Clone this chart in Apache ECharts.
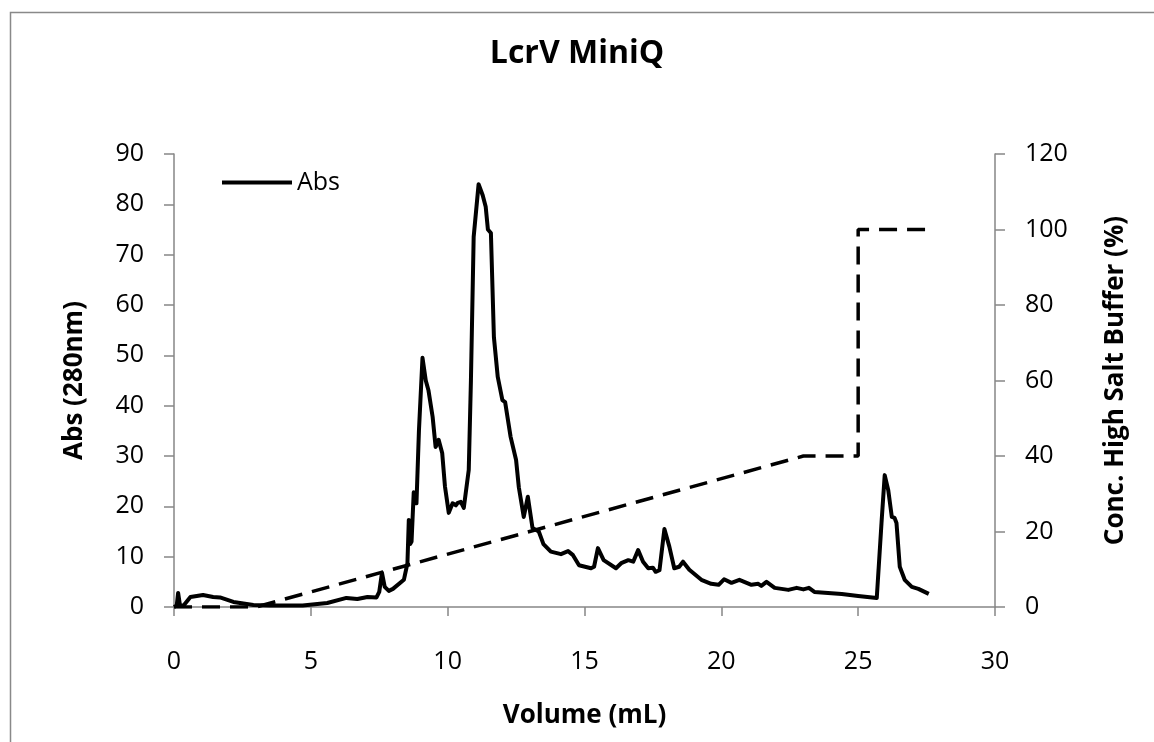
<!DOCTYPE html>
<html>
<head>
<meta charset="utf-8">
<script src="https://cdn.jsdelivr.net/npm/echarts@6/dist/echarts.min.js"></script>
<style>
html,body{margin:0;padding:0;background:#fff;}
#chart{width:1154px;height:742px;}
</style>
</head>
<body>
<div id="chart"></div>
<script>
const volume = [0,0.1,0.15,0.22,0.35,0.6,1.06,1.43,1.68,2.17,2.9,3.5,4.7,5.6,6.3,6.7,7.07,7.4,7.5,7.6,7.7,7.85,8.0,8.4,8.53,8.58,8.63,8.68,8.76,8.86,8.95,9.08,9.2,9.3,9.45,9.56,9.67,9.8,9.9,10.04,10.18,10.3,10.37,10.48,10.59,10.77,10.85,10.95,11.13,11.28,11.39,11.47,11.58,11.69,11.83,12.0,12.1,12.3,12.5,12.6,12.78,12.93,13.1,13.33,13.5,13.77,14.14,14.4,14.58,14.8,15.24,15.35,15.49,15.7,16.15,16.34,16.6,16.78,16.96,17.14,17.33,17.5,17.6,17.74,17.92,18.1,18.28,18.46,18.6,18.83,19.27,19.63,19.9,20.1,20.37,20.66,21.1,21.35,21.46,21.65,21.95,22.45,22.75,23.0,23.2,23.4,23.9,24.4,25.0,25.68,25.75,25.86,25.97,26.1,26.23,26.33,26.4,26.52,26.7,26.96,27.2,27.58];
const absorbance = [0,0.3,2.8,0.3,0.3,2.0,2.4,2.0,1.9,1.0,0.4,0.3,0.3,0.8,1.8,1.6,2.0,1.9,3,6.8,4,3.2,3.6,5.4,8.7,17.3,12.5,13,22.8,20.6,35,49.5,45,43,37.8,31.8,33.2,30.6,24,18.7,20.6,20.2,20.7,20.9,19.7,27.2,45,73.5,84,81.8,79.5,75,74.3,53.6,45.7,41.1,40.7,33.8,29.2,23.8,17.9,21.9,15.7,15,12.5,11,10.5,11.1,10.3,8.3,7.7,8,11.7,9.3,7.7,8.7,9.3,9,11.3,9,7.7,7.8,7,7.3,15.5,12,7.7,8,9,7.4,5.4,4.6,4.4,5.5,4.8,5.4,4.4,4.6,4.2,5,3.8,3.4,3.8,3.5,3.8,3.0,2.8,2.6,2.2,1.8,2.0,17.3,26.2,23.2,17.9,17.7,16.7,8,5.4,4,3.6,2.6];
const gradientVolume = [0,3,23,25,25,27.5];
const gradientConc = [0,0,40,40,100,100];
const xTicks = {min:0,max:30,interval:5};
const leftTicks = {min:0,max:90,interval:10};
const rightTicks = {min:0,max:120,interval:20};

const FONT = 'Open Sans';
const axisGray = '#868686';
const chart = echarts.init(document.getElementById('chart'), null, {renderer:'canvas'});
const absData = volume.map((v,i)=>[v,absorbance[i]]);
const gradData = gradientVolume.map((v,i)=>[v,gradientConc[i]]);

chart.setOption({
  animation:false,
  backgroundColor:'#fff',
  textStyle:{fontFamily:FONT,color:'#000'},
  graphic:[{type:'rect',left:8,top:10,shape:{width:1160,height:760},style:{fill:'none',stroke:'#898989',lineWidth:1.5},silent:true,z:-1}],
  title:{text:'LcrV MiniQ',left:'center',top:38,textStyle:{fontFamily:FONT,fontWeight:'bold',fontSize:32,color:'#000'},padding:0},
  legend:{left:222,top:170,padding:0,itemWidth:70,itemHeight:4,itemGap:6,data:[{name:'Abs',icon:'rect'}],
    textStyle:{fontFamily:FONT,fontSize:25,color:'#000',padding:[0,0,0,0]},selectedMode:false},
  grid:{left:174,right:159,top:154,bottom:135,containLabel:false},
  xAxis:{type:'value',min:xTicks.min,max:xTicks.max,interval:xTicks.interval,
    name:'Volume (mL)',nameLocation:'middle',nameGap:96,
    nameTextStyle:{fontFamily:FONT,fontWeight:'bold',fontSize:26,color:'#000'},
    axisLine:{show:true,onZero:false,lineStyle:{color:axisGray,width:1.5}},
    axisTick:{show:true,inside:false,length:9,lineStyle:{color:axisGray,width:1.5}},
    axisLabel:{fontFamily:FONT,fontSize:25,color:'#000',margin:42},
    splitLine:{show:false}},
  yAxis:[
    {type:'value',position:'left',min:leftTicks.min,max:leftTicks.max,interval:leftTicks.interval,
     name:'Abs (280nm)',nameLocation:'middle',nameGap:86,
     nameTextStyle:{fontFamily:FONT,fontWeight:'bold',fontSize:26,color:'#000'},
     axisLine:{show:true,lineStyle:{color:axisGray,width:1.5}},
     axisTick:{show:true,inside:false,length:10,lineStyle:{color:axisGray,width:1.5}},
     axisLabel:{fontFamily:FONT,fontSize:25,color:'#000',margin:30},
     splitLine:{show:false}},
    {type:'value',position:'right',min:rightTicks.min,max:rightTicks.max,interval:rightTicks.interval,
     name:'Conc. High Salt Buffer (%)',nameLocation:'middle',nameGap:108,
     nameTextStyle:{fontFamily:FONT,fontWeight:'bold',fontSize:26,color:'#000'},
     axisLine:{show:true,lineStyle:{color:axisGray,width:1.5}},
     axisTick:{show:true,inside:false,length:10,lineStyle:{color:axisGray,width:1.5}},
     axisLabel:{fontFamily:FONT,fontSize:25,color:'#000',margin:30},
     splitLine:{show:false}}
  ],
  series:[
    {name:'Abs',type:'line',yAxisIndex:0,data:absData,showSymbol:false,symbol:'none',
     lineStyle:{color:'#000',width:4,join:'round'},itemStyle:{color:'#000'},z:3},
    {name:'Gradient',type:'line',yAxisIndex:1,data:gradData,showSymbol:false,symbol:'none',
     lineStyle:{color:'#000',width:3.5,type:[18,10]},itemStyle:{color:'#000'},z:2}
  ]
});
</script>
</body>
</html>
